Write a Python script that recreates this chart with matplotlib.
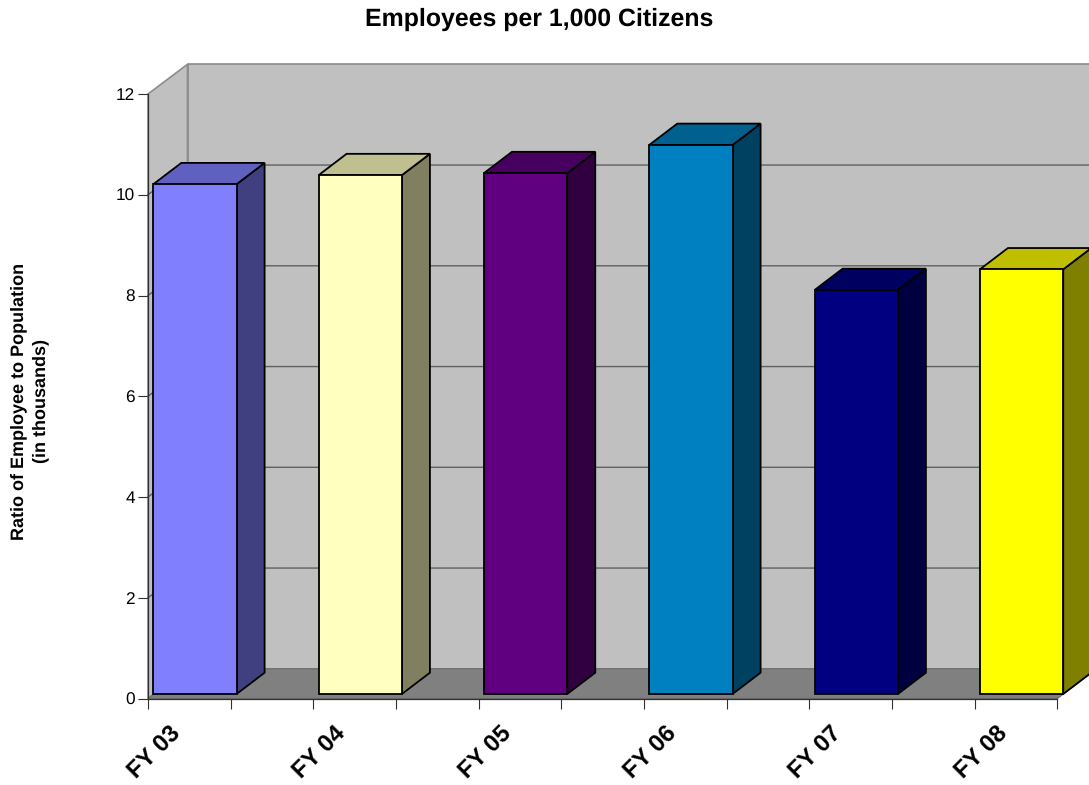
import matplotlib
matplotlib.use("Agg")
import matplotlib.pyplot as plt
from matplotlib.patches import Polygon

plt.rcParams['font.family'] = ['Liberation Sans', 'DejaVu Sans']
plt.rcParams['text.hinting'] = 'none'

# Chart data
categories = ['FY 03', 'FY 04', 'FY 05', 'FY 06', 'FY 07', 'FY 08']
ratios = [10.12, 10.30, 10.34, 10.90, 8.02, 8.43]
front_colors = ['#8080FF', '#FFFFC0', '#600080', '#0080C0', '#000080', '#FFFF00']
top_colors = ['#6060C0', '#BFBF90', '#480060', '#006090', '#000060', '#BFBF00']
side_colors = ['#404080', '#808060', '#300040', '#004060', '#000040', '#808000']
y_ticks = [0, 2, 4, 6, 8, 10, 12]

W, H = 1089, 785
fig = plt.figure(figsize=(W / 100, H / 100), dpi=100, facecolor='white')

# Front plane of the pseudo-3D box, in pixels
left, right, top, bottom = 148.0, 1057.3, 94.0, 698.5
ax = fig.add_axes([left / W, 1 - bottom / H, (right - left) / W, (bottom - top) / H])
n_steps = 11
ax.set_xlim(0, n_steps)
ax.set_ylim(0, 12)
ax.patch.set_visible(False)

px_x = n_steps / (right - left)      # data units per pixel, horizontally
px_y = 12 / (bottom - top)           # data units per pixel, vertically

# Box depth and bar depth
wall_dx, wall_dy = 39.5 * px_x, 29.7 * px_y
bar_dx, bar_dy = 28.0 * px_x, 21.3 * px_y
bar_shift_x, bar_shift_y = 5.3 * px_x, 4.5 * px_y
bar_w = 83.3 * px_x


def poly(points, face, edge, lw, z):
    ax.add_patch(Polygon(points, closed=True, facecolor=face, edgecolor=edge,
                         linewidth=lw, joinstyle='miter', clip_on=False, zorder=z))


# Back wall, side wall and floor
poly([(wall_dx, wall_dy), (n_steps + wall_dx, wall_dy),
      (n_steps + wall_dx, 12 + wall_dy), (wall_dx, 12 + wall_dy)],
     '#C0C0C0', '#8C8C8C', 1.2, 1)
poly([(0, 0), (wall_dx, wall_dy), (wall_dx, 12 + wall_dy), (0, 12)],
     '#C0C0C0', '#8C8C8C', 1.2, 1)
poly([(0, 0), (n_steps, 0), (n_steps + wall_dx, wall_dy), (wall_dx, wall_dy)],
     '#808080', '#707070', 1.0, 1.5)

# Gridlines along the side wall and back wall
for v in y_ticks[1:-1]:
    ax.plot([0, wall_dx, n_steps + wall_dx], [v, v + wall_dy, v + wall_dy],
            color='#606060', lw=1.0, clip_on=False, zorder=2,
            solid_joinstyle='miter')

# Bars: side, top, then front face
for i, value in enumerate(ratios):
    x0 = 2 * i + bar_shift_x
    x1 = x0 + bar_w
    y0 = bar_shift_y
    y1 = value + bar_shift_y
    z = 3 + i
    poly([(x1, y0), (x1 + bar_dx, y0 + bar_dy), (x1 + bar_dx, y1 + bar_dy), (x1, y1)],
         side_colors[i], 'black', 1.3, z)
    poly([(x0, y1), (x1, y1), (x1 + bar_dx, y1 + bar_dy), (x0 + bar_dx, y1 + bar_dy)],
         top_colors[i], 'black', 1.3, z)
    poly([(x0, y0), (x1, y0), (x1, y1), (x0, y1)],
         front_colors[i], 'black', 1.3, z)

# Axes lines and ticks
for side in ('top', 'right'):
    ax.spines[side].set_visible(False)
for side in ('left', 'bottom'):
    ax.spines[side].set_linewidth(0.9)
    ax.spines[side].set_color('#303030')
    ax.spines[side].set_zorder(2.5)

ax.set_yticks(y_ticks)
ax.tick_params(axis='y', length=7.2, width=0.8, labelsize=12.4, pad=2.3, color='#303030')
ax.set_xticks(range(n_steps + 1))
ax.set_xticklabels([])
ax.tick_params(axis='x', which='major', length=7.5, width=0.8, color='#303030')
ax.set_xticks([2 * i + 0.26 for i in range(len(categories))], minor=True)
ax.set_xticklabels(categories, minor=True, rotation=45, ha='right', va='top',
                   rotation_mode='anchor', fontsize=17.3, fontweight='bold')
ax.tick_params(axis='x', which='minor', length=0, pad=17.5)

fig.text(539 / W, 1 - 19 / H, 'Employees per 1,000 Citizens', ha='center', va='center',
         fontsize=17.9, fontweight='bold')
fig.text(29.5 / W, 1 - 401 / H, 'Ratio of Employee to Population\n(in thousands)',
         ha='center', va='center', rotation=90, fontsize=13, fontweight='bold',
         linespacing=1.45)

fig.savefig('out.png', dpi=100, facecolor='white')
